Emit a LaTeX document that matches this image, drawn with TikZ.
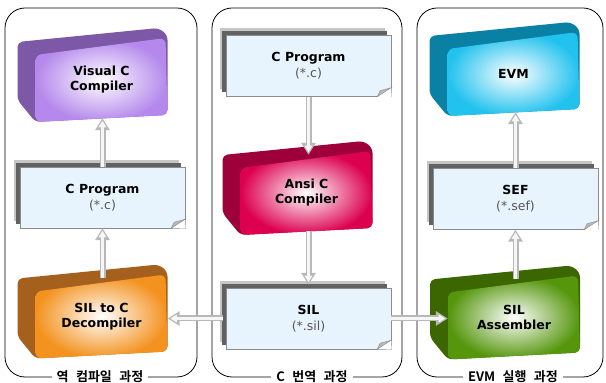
\documentclass[tikz,border=0pt]{standalone}
\usepackage{fontspec}
\setmainfont{DejaVu Sans}
\newfontfamily\kofont[WordSpace=2.5]{Noto Sans CJK KR Bold}
\usetikzlibrary{arrows.meta,shadows}

\definecolor{docfill}{HTML}{E8F4FD}
\definecolor{docedge}{HTML}{8C8C8C}
\definecolor{subgray}{HTML}{555555}
\definecolor{arrowgray}{HTML}{B8B8B8}
\definecolor{violetbox}{HTML}{B488EC}
\definecolor{violetside}{HTML}{7C58A6}
\definecolor{redbox}{HTML}{DC004E}
\definecolor{redside}{HTML}{9E003A}
\definecolor{orangebox}{HTML}{F3921E}
\definecolor{orangeside}{HTML}{A4601C}
\definecolor{cyanbox}{HTML}{22C2EE}
\definecolor{cyanside}{HTML}{0A80A4}
\definecolor{greenbox}{HTML}{55960C}
\definecolor{greenside}{HTML}{3C6600}

\tikzset{
  panel/.style={draw=black, line width=0.8pt, rounded corners=20pt},
  panellabel/.style={fill=white, inner xsep=5pt, inner ysep=1pt, font=\kofont\fontsize{13}{15}\selectfont},
  doc/.style={draw=docedge, fill=docfill, minimum width=165pt, minimum height=61pt, inner sep=0pt,
    align=center, font=\fontsize{12.5}{16}\selectfont,
    copy shadow={shadow xshift=-6pt, shadow yshift=7pt, fill=gray!45, draw=none},
    copy shadow={shadow xshift=-4pt, shadow yshift=4pt, fill=black!62, draw=none}},
  cubelabel/.style={minimum width=132pt, minimum height=76pt, inner sep=0pt, align=center,
    font=\fontsize{12.5}{15}\selectfont\bfseries},
  arrowrim/.style={draw=arrowgray, line width=6pt, -{Triangle[width=14pt,length=12pt]}},
  arrowcore/.style={draw=white!93!gray, line width=2.4pt, -{Triangle[width=7.5pt,length=6.5pt]}, shorten >=2.6pt}
}

\newcommand\cubebox[5]{%
  \begin{scope}[shift={(#2,#3)}]
    \fill[#4side, rounded corners=5pt] (-75,33) -- (66,47) -- (75,40) -- (75,-40) -- (-57,-47) -- (-75,-25) -- cycle;
    \shade[rounded corners=6pt, inner color=white, outer color=#4box] (-57,20) -- (73,37) -- (75,-40) -- (-57,-47) -- cycle;
    \node[cubelabel] (#1) at (9,-5) {#5};
  \end{scope}
}
\newcommand\dogear[1]{%
  \fill[white] ([xshift=-14pt]#1.south east) -- ([xshift=0.5pt,yshift=-0.5pt]#1.south east) -- ([yshift=9pt]#1.south east) -- cycle;
  \filldraw[fill=gray!55, draw=docedge] ([xshift=-14pt]#1.south east) -- ([yshift=9pt]#1.south east) -- ([xshift=-11pt,yshift=6pt]#1.south east) -- cycle;
}

\begin{document}
\begin{tikzpicture}[x=1pt, y=1pt]
\useasboundingbox (0,0) rectangle (606,383);

\draw[panel] (5,6) rectangle (197,375);
\draw[panel] (212,6) rectangle (402,375);
\draw[panel] (417,6) rectangle (603,375);
\node[panellabel] (lblrev) at (100,6) {역 컴파일 과정};
\node[panellabel] (lbltrans) at (312,6) {C 번역 과정};
\node[panellabel] (lblrun) at (513,6) {EVM 실행 과정};

\cubebox{visualc}{92.5}{308}{violet}{Visual C\\Compiler}
\cubebox{ansic}{297.5}{195}{red}{Ansi C\\Compiler}
\cubebox{decomp}{92.5}{71.5}{orange}{SIL to C\\Decompiler}
\cubebox{evm}{504.5}{314}{cyan}{EVM}
\cubebox{assem}{505}{70.5}{green}{SIL\\Assembler}

\node[doc] (cprogL) at (102.5,185.5) {\textbf{C Program}\\\textcolor{subgray}{(*.c)}};
\node[doc] (cprogM) at (308.5,317) {\textbf{C Program}\\\textcolor{subgray}{(*.c)}};
\node[doc] (silM) at (308.5,64.5) {\textbf{SIL}\\\textcolor{subgray}{(*.sil)}};
\node[doc] (sefR) at (515.5,184) {\textbf{SEF}\\\textcolor{subgray}{(*.sef)}};
\dogear{cprogL}
\dogear{cprogM}
\dogear{silM}
\dogear{sefR}

\draw[arrowrim] (decomp.north -| cprogL.south) -- (cprogL.south);
\draw[arrowcore] (decomp.north -| cprogL.south) -- (cprogL.south);
\draw[arrowrim] (cprogL.north) -- (cprogL.north |- visualc.south);
\draw[arrowcore] (cprogL.north) -- (cprogL.north |- visualc.south);
\draw[arrowrim] (cprogM.south) -- (cprogM.south |- ansic.north);
\draw[arrowcore] (cprogM.south) -- (cprogM.south |- ansic.north);
\draw[arrowrim] (ansic.south -| silM.north) -- ([yshift=3pt]silM.north);
\draw[arrowcore] (ansic.south -| silM.north) -- ([yshift=3pt]silM.north);
\draw[arrowrim] (assem.north -| sefR.south) -- (sefR.south);
\draw[arrowcore] (assem.north -| sefR.south) -- (sefR.south);
\draw[arrowrim] (sefR.north) -- (sefR.north |- evm.south);
\draw[arrowcore] (sefR.north) -- (sefR.north |- evm.south);
\draw[arrowrim] ([xshift=-3pt]silM.west) -- (silM.west -| decomp.east);
\draw[arrowcore] ([xshift=-3pt]silM.west) -- (silM.west -| decomp.east);
\draw[arrowrim] (silM.east) -- (silM.east -| assem.west);
\draw[arrowcore] (silM.east) -- (silM.east -| assem.west);
\end{tikzpicture}
\end{document}
